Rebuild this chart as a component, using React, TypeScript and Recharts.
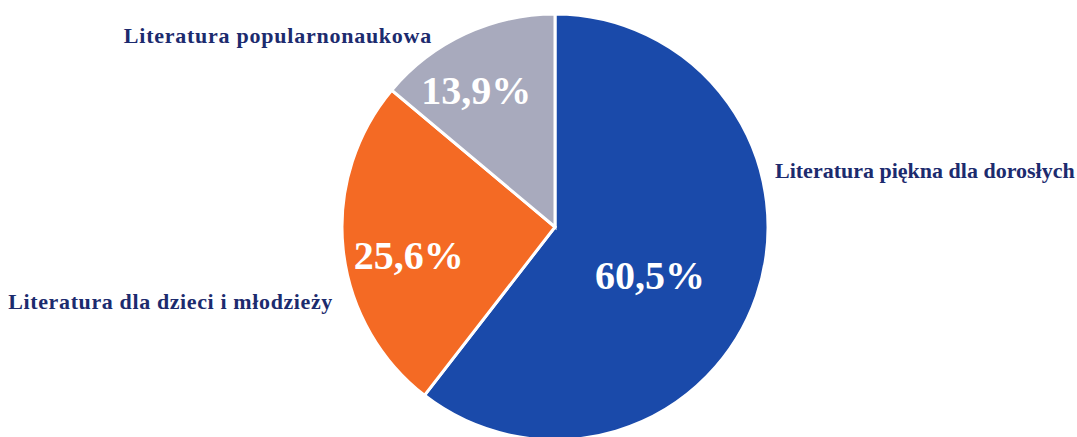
import { PieChart, Pie, Cell } from "recharts";

const categories = [
  "Literatura piękna dla dorosłych",
  "Literatura dla dzieci i młodzieży",
  "Literatura popularnonaukowa",
];
const shares = [60.5, 25.6, 13.9];
const colors = ["#1a4aaa", "#f46a24", "#a8aabd"];

// label placement per slice (inner % label radius/angle nudge, outer name label offset)
const inner = [
  { r: 0.5, nudge: -8 },
  { r: 0.7, nudge: 5 },
  { r: 0.74, nudge: 5 },
];
const outer = [
  { dx: 220, dy: -49, anchor: "start", ls: 0 },
  { dx: -222, dy: 82, anchor: "end", ls: 0.62 },
  { dx: -123, dy: -184, anchor: "end", ls: 0.75 },
];

const data = categories.map((name, i) => ({ name, value: shares[i] }));

const RAD = Math.PI / 180;
const fmt = (v: number) => v.toFixed(1).replace(".", ",") + "%";

function renderLabel(props: any) {
  const { cx, cy, midAngle, outerRadius, index, value } = props;
  const p = inner[index];
  const o = outer[index];
  const a = (midAngle + p.nudge) * RAD;
  const x = cx + outerRadius * p.r * Math.cos(a);
  const y = cy - outerRadius * p.r * Math.sin(a);
  return (
    <g key={`lbl-${index}`}>
      <text
        x={x}
        y={y}
        textAnchor="middle"
        dominantBaseline="central"
        fill="#fff"
        style={{ fontFamily: "Liberation Serif", fontWeight: 700, fontSize: 40 }}
      >
        {fmt(value)}
      </text>
      <text
        x={cx + o.dx}
        y={cy + o.dy}
        textAnchor={o.anchor}
        fill="#1c2b6e"
        style={{ fontFamily: "Liberation Serif", fontWeight: 700, fontSize: 22, letterSpacing: o.ls }}
      >
        {categories[index]}
      </text>
    </g>
  );
}

export default function App() {
  return (
    <div style={{ position: "absolute", left: 0, top: 0, width: 1077, height: 437, background: "#fff" }}>
      <PieChart width={1077} height={437}>
        <Pie
          data={data}
          dataKey="value"
          cx={550}
          cy={222}
          outerRadius={213}
          startAngle={90}
          endAngle={-270}
          stroke="#fff"
          strokeWidth={3}
          label={renderLabel}
          labelLine={false}
          isAnimationActive={false}
        >
          {data.map((d, i) => (
            <Cell key={d.name} fill={colors[i]} />
          ))}
        </Pie>
      </PieChart>
    </div>
  );
}
